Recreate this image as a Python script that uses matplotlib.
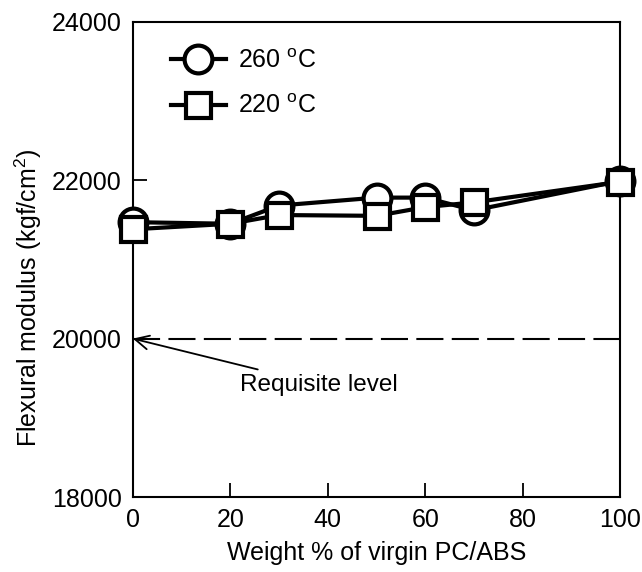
import matplotlib.pyplot as plt

plt.rcParams['font.family'] = ['Liberation Sans', 'DejaVu Sans']
plt.rcParams['mathtext.fontset'] = 'custom'
plt.rcParams['mathtext.rm'] = 'Liberation Sans'

x_pct = [0, 20, 30, 50, 60, 70, 100]
mod_260 = [21470, 21450, 21680, 21780, 21780, 21620, 21990]
mod_220 = [21380, 21450, 21560, 21550, 21660, 21720, 21980]
requisite = 20000

fig = plt.figure(figsize=(6.42, 5.72), dpi=100)
ax = fig.add_axes([0.207, 0.131, 0.759, 0.831])

ax.plot(x_pct, mod_260, color='black', lw=3, marker='o', ms=20,
        mfc='white', mec='black', mew=3, label='260 $^{\\rm o}$C', zorder=3,
        clip_on=False)
ax.plot(x_pct, mod_220, color='black', lw=3, marker='s', ms=18,
        mfc='white', mec='black', mew=3, label='220 $^{\\rm o}$C', zorder=4,
        clip_on=False)

ax.plot([0, 100], [requisite, requisite], color='black', lw=1.5,
        dashes=(13, 4), zorder=2)
ax.annotate('Requisite level', xy=(0, requisite), xytext=(22, 19420),
            fontsize=17.5, va='center', ha='left',
            arrowprops=dict(arrowstyle='->', color='black', lw=1.3,
                            mutation_scale=25, shrinkA=4, shrinkB=0))

ax.set_xlim(0, 100)
ax.set_ylim(18000, 24000)
ax.set_xticks([0, 20, 40, 60, 80, 100])
ax.set_yticks([18000, 20000, 22000, 24000])
ax.tick_params(direction='in', length=10, width=1.3, labelsize=18, pad=8)
for s in ax.spines.values():
    s.set_linewidth(1.5)

ax.set_xlabel('Weight % of virgin PC/ABS', fontsize=18, labelpad=6)
ax.set_ylabel('Flexural modulus (kgf/cm$^2$)', fontsize=18)
ax.yaxis.set_label_coords(-0.182, 0.42)

ax.legend(loc='upper left', bbox_to_anchor=(0.047, 0.974), frameon=False,
          fontsize=18, markerscale=1.0, handlelength=2.2, borderaxespad=0,
          labelspacing=0.85, handletextpad=0.5, borderpad=0.6)

fig.savefig('out.png', dpi=100)
